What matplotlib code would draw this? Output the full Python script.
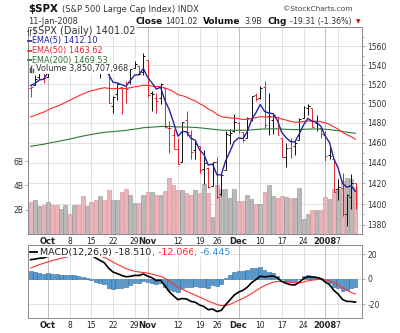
import numpy as np
import matplotlib
matplotlib.use("Agg")
import matplotlib.pyplot as plt
from matplotlib.ticker import FixedLocator, NullFormatter, FuncFormatter
from matplotlib.transforms import blended_transform_factory
from matplotlib.lines import Line2D

plt.rcParams['font.family'] = ['DejaVu Sans']

dates = ['2007-09-25', '2007-09-26', '2007-09-27', '2007-09-28',
         '2007-10-01', '2007-10-02', '2007-10-03', '2007-10-04', '2007-10-05',
         '2007-10-08', '2007-10-09', '2007-10-10', '2007-10-11', '2007-10-12',
         '2007-10-15', '2007-10-16', '2007-10-17', '2007-10-18', '2007-10-19',
         '2007-10-22', '2007-10-23', '2007-10-24', '2007-10-25', '2007-10-26',
         '2007-10-29', '2007-10-30', '2007-10-31',
         '2007-11-01', '2007-11-02', '2007-11-05', '2007-11-06', '2007-11-07',
         '2007-11-08', '2007-11-09', '2007-11-12', '2007-11-13', '2007-11-14',
         '2007-11-15', '2007-11-16', '2007-11-19', '2007-11-20', '2007-11-21',
         '2007-11-23', '2007-11-26', '2007-11-27', '2007-11-28', '2007-11-29',
         '2007-11-30',
         '2007-12-03', '2007-12-04', '2007-12-05', '2007-12-06', '2007-12-07',
         '2007-12-10', '2007-12-11', '2007-12-12', '2007-12-13', '2007-12-14',
         '2007-12-17', '2007-12-18', '2007-12-19', '2007-12-20', '2007-12-21',
         '2007-12-24', '2007-12-26', '2007-12-27', '2007-12-28', '2007-12-31',
         '2008-01-02', '2008-01-03', '2008-01-04', '2008-01-07', '2008-01-08',
         '2008-01-09', '2008-01-10', '2008-01-11']

opens = [1516.3, 1518.6, 1527.3, 1531.2,
         1527.3, 1547.0, 1545.8, 1539.9, 1543.0, 1556.5, 1553.2, 1564.9, 1564.7, 1555.4,
         1562.3, 1547.8, 1544.4, 1539.3, 1540.0, 1497.8, 1509.3, 1516.6, 1516.2, 1522.2,
         1536.9, 1539.4, 1532.2,
         1545.8, 1511.0, 1505.6, 1505.3, 1515.5, 1475.3, 1467.6, 1453.7, 1441.4, 1483.4,
         1468.0, 1453.1, 1456.7, 1434.5, 1434.7, 1417.6, 1440.7, 1409.6, 1432.9, 1467.4,
         1471.8,
         1479.6, 1471.3, 1465.2, 1484.6, 1508.6, 1505.1, 1516.7, 1487.6, 1483.3, 1486.2,
         1465.1, 1445.9, 1454.7, 1456.4, 1463.2, 1484.6, 1495.1, 1495.1, 1479.8, 1475.3,
         1468.0, 1447.6, 1444.0, 1414.1, 1415.7, 1390.3, 1406.8, 1419.9]
highs = [1518.3, 1529.0, 1532.5, 1533.7,
         1549.0, 1548.0, 1546.0, 1544.0, 1561.9, 1556.5, 1565.3, 1565.4, 1576.1, 1563.0,
         1564.7, 1547.8, 1550.7, 1542.8, 1540.0, 1508.1, 1520.0, 1517.2, 1523.2, 1535.5,
         1544.7, 1539.4, 1552.8,
         1545.8, 1513.2, 1510.8, 1520.8, 1515.5, 1482.5, 1474.1, 1464.9, 1481.4, 1492.1,
         1472.7, 1462.2, 1456.7, 1452.6, 1436.4, 1440.9, 1446.1, 1429.5, 1471.6, 1473.8,
         1488.9,
         1481.2, 1471.3, 1486.1, 1508.0, 1510.6, 1518.3, 1523.6, 1511.0, 1489.4, 1486.7,
         1465.1, 1460.2, 1464.4, 1461.5, 1485.4, 1497.6, 1498.9, 1495.1, 1488.0, 1475.8,
         1471.8, 1456.8, 1444.0, 1423.9, 1430.3, 1409.2, 1429.1, 1419.9]
lows = [1507.1, 1518.6, 1525.8, 1521.0,
        1527.3, 1540.4, 1536.3, 1537.6, 1543.0, 1549.0, 1551.8, 1555.5, 1546.7, 1554.2,
        1540.8, 1536.3, 1526.0, 1531.8, 1500.3, 1490.4, 1503.6, 1489.6, 1500.5, 1520.2,
        1536.9, 1529.6, 1529.4,
        1506.7, 1492.5, 1489.9, 1499.1, 1475.0, 1450.3, 1453.6, 1438.5, 1441.4, 1466.5,
        1443.5, 1443.9, 1430.4, 1419.3, 1415.6, 1417.6, 1406.1, 1407.4, 1432.9, 1458.4,
        1470.9,
        1470.1, 1460.7, 1465.2, 1482.2, 1502.7, 1504.7, 1475.0, 1468.2, 1469.2, 1467.8,
        1445.4, 1435.7, 1445.3, 1447.5, 1463.2, 1484.6, 1488.2, 1475.9, 1471.7, 1465.1,
        1442.1, 1443.7, 1411.2, 1403.5, 1388.3, 1378.7, 1395.3, 1394.8]
closes = [1517.2, 1525.4, 1531.4, 1526.8,
          1547.0, 1546.6, 1539.6, 1542.8, 1557.6, 1552.6, 1565.2, 1562.5, 1554.4, 1561.8,
          1548.7, 1538.5, 1541.2, 1540.1, 1500.6, 1506.3, 1519.6, 1515.9, 1514.4, 1535.3,
          1541.0, 1531.0, 1549.4,
          1508.4, 1509.7, 1502.2, 1520.3, 1475.6, 1474.8, 1453.7, 1439.2, 1481.1, 1470.6,
          1451.2, 1458.7, 1433.3, 1439.7, 1416.8, 1440.7, 1407.2, 1428.2, 1469.0, 1469.7,
          1481.1,
          1472.4, 1462.8, 1485.0, 1507.3, 1504.7, 1516.0, 1477.7, 1486.6, 1488.4, 1468.0,
          1445.9, 1455.0, 1453.0, 1460.1, 1484.5, 1496.5, 1497.7, 1476.3, 1478.5, 1468.4,
          1447.16, 1447.16, 1411.6, 1416.2, 1390.2, 1409.1, 1420.3, 1401.02]
prev_close = 1517.73

volume_b = [2.68, 2.82, 2.33, 2.36,
            2.60, 2.40, 2.40, 2.08, 2.40, 1.67, 2.40, 2.40, 3.10, 2.27,
            2.60, 2.77, 3.15, 2.77, 3.64, 2.82, 2.82, 3.45, 3.73, 3.23,
            2.55, 2.55, 3.23,
            3.45, 3.45, 3.18, 3.23, 3.56, 4.60, 4.00, 3.64, 3.64, 3.37,
            3.23, 3.60, 3.37, 4.10, 3.37, 1.37, 4.00, 3.73, 3.73, 3.00,
            3.73,
            2.74, 2.74, 3.18, 2.90, 2.50, 2.50, 3.50, 4.00, 3.12, 2.96,
            3.10, 3.04, 2.96, 3.00, 3.80, 1.25, 1.67, 2.00, 2.00, 2.00,
            3.04, 2.90, 3.70, 3.70, 4.40, 4.60, 4.50, 3.85]

ema5 = [1518.5, 1520.8, 1524.3, 1525.1,
        1532.4, 1537.1, 1537.9, 1539.5, 1545.5, 1547.9, 1553.7, 1556.6, 1555.9, 1557.9,
        1554.8, 1549.4, 1546.7, 1544.5, 1529.9, 1522.0, 1521.2, 1519.4, 1517.7, 1523.6,
        1529.4, 1529.9, 1536.4,
        1527.1, 1521.3, 1514.9, 1516.7, 1503.0, 1493.6, 1480.3, 1466.6, 1471.4, 1471.1,
        1464.5, 1462.6, 1452.8, 1448.4, 1437.9, 1438.8, 1428.3, 1428.3, 1441.9, 1451.2,
        1461.2,
        1464.9, 1464.2, 1471.1, 1483.2, 1490.4, 1498.9, 1491.8, 1490.1, 1489.5, 1482.3,
        1470.2, 1465.1, 1461.1, 1460.8, 1468.7, 1478.0, 1484.6, 1481.8, 1480.7, 1476.6,
        1466.8, 1460.3, 1444.1, 1434.8, 1419.9, 1416.3, 1417.6, 1412.1]
ema50 = [1486.3, 1487.8, 1489.5, 1491.0,
         1493.2, 1495.3, 1497.0, 1498.8, 1501.1, 1503.1, 1505.5, 1507.7, 1509.5, 1511.6,
         1513.1, 1514.1, 1515.2, 1516.2, 1515.6, 1515.2, 1515.4, 1515.4, 1515.4, 1516.2,
         1517.2, 1517.7, 1518.9,
         1518.5, 1518.1, 1517.5, 1517.6, 1516.0, 1514.4, 1512.0, 1509.1, 1508.0, 1506.5,
         1504.3, 1502.5, 1499.8, 1497.4, 1494.2, 1492.1, 1488.8, 1486.4, 1485.7, 1485.1,
         1484.9,
         1484.4, 1483.5, 1483.6, 1484.5, 1485.3, 1486.5, 1486.1, 1486.1, 1486.2, 1485.5,
         1484.0, 1482.9, 1481.7, 1480.8, 1480.9, 1481.5, 1482.1, 1481.9, 1481.8, 1481.3,
         1480.0, 1478.7, 1476.1, 1473.8, 1470.5, 1468.1, 1466.2, 1463.6]
ema200 = [1456.5, 1457.2, 1457.9, 1458.6,
          1459.5, 1460.4, 1461.2, 1462.0, 1462.9, 1463.8, 1464.8, 1465.8, 1466.7, 1467.6,
          1468.4, 1469.1, 1469.9, 1470.6, 1470.9, 1471.2, 1471.7, 1472.1, 1472.5, 1473.2,
          1473.8, 1474.4, 1475.2,
          1475.5, 1475.8, 1476.1, 1476.5, 1476.5, 1476.5, 1476.3, 1475.9, 1476.0, 1475.9,
          1475.7, 1475.5, 1475.1, 1474.7, 1474.1, 1473.8, 1473.2, 1472.7, 1472.7, 1472.6,
          1472.7,
          1472.7, 1472.6, 1472.7, 1473.1, 1473.4, 1473.8, 1473.9, 1474.0, 1474.1, 1474.1,
          1473.8, 1473.6, 1473.4, 1473.3, 1473.4, 1473.6, 1473.8, 1473.9, 1473.9, 1473.9,
          1473.6, 1473.3, 1472.7, 1472.2, 1471.3, 1470.7, 1470.2, 1469.5]

macd = [15.5, 15.9, 16.6, 16.8,
        18.2, 19.2, 19.4, 19.8, 20.9, 21.1, 21.9, 22.0, 21.3, 20.8,
        19.1, 16.8, 14.9, 13.0, 8.6, 5.6, 4.3, 2.9, 1.8, 2.1,
        2.9, 2.8, 4.0,
        2.3, 1.0, -1.2, -1.0, -5.5, -10.2, -13.5, -16.5, -15.6, -16.0,
        -17.9, -18.6, -20.8, -22.0, -24.6, -24.0, -26.0, -25.1, -20.6, -16.8,
        -12.8,
        -10.5, -9.1, -6.6, -2.9, -0.5, 2.2, 1.7, 2.1, 2.4, 0.8,
        -2.0, -3.4, -4.6, -4.8, -2.6, 0.3, 1.8, 1.5, 1.3, 0.3,
        -2.4, -4.5, -9.1, -12.1, -16.4, -17.9, -18.0, -18.5]
signal = [8.8, 10.2, 11.5, 12.6,
          13.7, 14.8, 15.7, 16.5, 17.4, 18.1, 18.9, 19.5, 19.9, 20.1,
          19.9, 19.3, 18.4, 17.3, 15.6, 13.6, 11.7, 10.0, 8.3, 7.1,
          6.2, 5.6, 5.2,
          4.7, 3.9, 2.9, 2.1, 0.6, -1.6, -4.0, -6.5, -8.3, -9.8,
          -11.4, -12.9, -14.5, -16.0, -17.7, -19.0, -20.4, -21.3, -21.2, -20.3,
          -18.8,
          -17.1, -15.5, -13.7, -11.6, -9.4, -7.1, -5.3, -3.8, -2.6, -1.9,
          -1.9, -2.2, -2.7, -3.1, -3.0, -2.4, -1.5, -0.9, -0.5, -0.3,
          -0.7, -1.5, -3.0, -4.8, -7.0, -9.1, -10.7, -12.1]

tick_dates = ['2007-10-01', '2007-10-08', '2007-10-15', '2007-10-22', '2007-10-29',
              '2007-11-01', '2007-11-12', '2007-11-19', '2007-11-26', '2007-12-03',
              '2007-12-10', '2007-12-17', '2007-12-24', '2008-01-02', '2008-01-07']
tick_labels = ['Oct', '8', '15', '22', '29', 'Nov', '12', '19', '26', 'Dec',
               '10', '17', '24', '2008', '7']
month_labels = ['Oct', 'Nov', 'Dec', '2008']
price_ticks = list(range(1380, 1561, 20))

# ---------------------------------------------------------------
W, H = 400, 333
fig = plt.figure(figsize=(W / 100, H / 100), dpi=100)
fig.patch.set_facecolor('white')


def fx(px):
    return px / W


def fy(py):
    return 1 - py / H


n = len(dates)
x = np.arange(n)
c = np.array(closes)
prev = np.concatenate([[prev_close], c[:-1]])
down = c < prev
bar_col = np.where(down, '#e0161e', '#000000')
vol_face = np.where(down, '#ebb4ba', '#b9b9b9')
vol_edge = np.where(down, '#d98890', '#8f8f8f')
xlim = (-0.62, n + 0.5)
tick_pos = [dates.index(d) for d in tick_dates]

SPINE = '#8a8a8a'
GRID = '#dddddd'
MGRID = '#b4b4b4'

# ---------------- main panel ----------------
ax_v = fig.add_axes([fx(28), fy(234), fx(362) - fx(28), fy(27) - fy(234)])
ax_p = ax_v.twinx()
ax_p.set_yscale('log')
ax_p.set_ylim(1371.5, 1580.7)
ax_v.set_ylim(0, 17.07e9)
ax_v.set_xlim(*xlim)

trans = blended_transform_factory(ax_v.transAxes, ax_p.transData)
for p in price_ticks:
    ax_v.plot([0, 1], [p, p], transform=trans, color=GRID, lw=0.6, zorder=1)
for t, lab in zip(tick_pos, tick_labels):
    ax_v.axvline(t, color=MGRID if lab in month_labels else GRID, lw=0.6, zorder=1)

ax_v.bar(x, np.array(volume_b) * 1e9, width=0.86, color=vol_face,
         edgecolor=vol_edge, linewidth=0.4, zorder=2)

ax_p.vlines(x, lows, highs, colors=bar_col, lw=0.65, zorder=3)
ax_p.hlines(opens, x - 0.45, x, colors=bar_col, lw=0.65, zorder=3)
ax_p.hlines(closes, x, x + 0.45, colors=bar_col, lw=0.65, zorder=3)
ax_p.plot(x, ema200, color='#2e7a30', lw=0.8, zorder=4)
ax_p.plot(x, ema50, color='#ff2b2b', lw=0.8, zorder=4)
ax_p.plot(x, ema5, color='#2323a3', lw=1.0, zorder=5)
ax_p.set_xlim(*xlim)

ax_p.yaxis.set_major_locator(FixedLocator(price_ticks))
ax_p.yaxis.set_major_formatter(FuncFormatter(lambda v, pos: f'{v:.0f}'))
ax_p.yaxis.set_minor_locator(FixedLocator(list(range(1380, 1580, 10))))
ax_p.yaxis.set_minor_formatter(NullFormatter())
ax_p.tick_params(axis='y', which='major', labelsize=5.5, length=2.5, width=0.5,
                 color=SPINE, pad=1.5, labelcolor='#333333')
ax_p.tick_params(axis='y', which='minor', length=1.5, width=0.5, color=SPINE)

ax_v.yaxis.set_major_locator(FixedLocator([2e9, 4e9, 6e9]))
ax_v.set_yticklabels(['2B', '4B', '6B'])
ax_v.tick_params(axis='y', labelsize=5.5, length=2.5, width=0.5, color=SPINE,
                 pad=1, labelcolor='#333333')

for a in (ax_v, ax_p):
    for s in a.spines.values():
        s.set_color(SPINE)
        s.set_linewidth(0.7)


def set_xticks(a):
    a.set_xticks(tick_pos)
    a.set_xticklabels(tick_labels)
    a.tick_params(axis='x', length=0, labelsize=5.5, pad=2.2, labelcolor='#222222')
    for lbl in a.get_xticklabels():
        if lbl.get_text() in month_labels:
            lbl.set_fontweight('bold')
            lbl.set_fontsize(6)


set_xticks(ax_v)

# ---------------- MACD panel ----------------
ax_m = fig.add_axes([fx(28), fy(318), fx(362) - fx(28), fy(245) - fy(318)])
ax_m.set_xlim(*xlim)
ax_m.set_ylim(-31.2, 27.2)
for v in (-20, 0, 20):
    ax_m.axhline(v, color=GRID, lw=0.6, zorder=1)
for t, lab in zip(tick_pos, tick_labels):
    ax_m.axvline(t, color=MGRID if lab in month_labels else GRID, lw=0.6, zorder=1)
hist = np.array(macd) - np.array(signal)
ax_m.bar(x, hist, width=0.86, color='#5798cf', edgecolor='#2c6d9c',
         linewidth=0.4, zorder=2)
ax_m.plot(x, signal, color='#ff3030', lw=0.8, zorder=3)
ax_m.plot(x, macd, color='#000000', lw=1.2, zorder=4)
ax_m.yaxis.tick_right()
ax_m.set_yticks([-20, 0, 20])
ax_m.set_yticklabels(['-20', '0', '20'])
ax_m.tick_params(axis='y', labelsize=5.5, length=2.5, width=0.5, color=SPINE,
                 pad=1.5, labelcolor='#333333')
for s in ax_m.spines.values():
    s.set_color(SPINE)
    s.set_linewidth(0.7)
set_xticks(ax_m)

# ---------------- texts ----------------
renderer = fig.canvas.get_renderer()
WHITE = dict(boxstyle='square,pad=0.08', fc='white', ec='none')


def put(px, py, s, **kw):
    kw.setdefault('va', 'center')
    kw.setdefault('ha', 'left')
    return fig.text(fx(px), fy(py), s, **kw)


def seq(px, py, parts):
    cur = px
    for s, kw in parts:
        t = put(cur, py, s, **kw)
        cur = t.get_window_extent(renderer=renderer).x1
    return cur


def seg(x0, x1, y, color, lw=1.2):
    fig.add_artist(Line2D([fx(x0), fx(x1)], [fy(y), fy(y)], color=color, lw=lw,
                          transform=fig.transFigure))


# header
put(28, 12, r'\$SPX', fontsize=7.4, fontweight='bold', va='baseline', color='#111111')
put(62, 12, '(S&P 500 Large Cap Index) INDX', fontsize=6.0, va='baseline', color='#333333')
put(283, 11, '\u00a9StockCharts.com', fontsize=5.3, va='baseline', color='#444444')
put(28, 24, '11-Jan-2008', fontsize=5.9, va='baseline', color='#333333')
put(135, 24, 'Close', fontsize=6.4, fontweight='bold', va='baseline', color='#111111')
put(165.5, 24, '1401.02', fontsize=5.7, va='baseline', color='#333333')
put(203, 24, 'Volume', fontsize=6.4, fontweight='bold', va='baseline', color='#111111')
put(244.5, 24, '3.9B', fontsize=5.7, va='baseline', color='#333333')
put(268, 24, 'Chg', fontsize=6.4, fontweight='bold', va='baseline', color='#111111')
put(290, 24, '-19.31 (-1.36%)', fontsize=5.7, va='baseline', color='#333333')
put(355.5, 23.5, '\u25bc', fontsize=4.2, va='baseline', color='#d01010')

# main panel legend
put(32.5, 31.5, r'\$SPX (Daily) 1401.02', fontsize=7.0, color='#333333', bbox=WHITE)
for xx in (27.6, 30.2):
    fig.add_artist(Line2D([fx(xx), fx(xx)], [fy(35), fy(28.5)], color='#444444', lw=0.6,
                          transform=fig.transFigure))
seg(26.8, 27.6, 31, '#444444', 0.6)
seg(30.2, 31.0, 30, '#444444', 0.6)
leg_rows = [('EMA(5) 1412.10', '#1f1f9e', 41),
            ('EMA(50) 1463.62', '#e8262b', 50.5),
            ('EMA(200) 1469.53', '#2e6e2e', 60)]
for s, col, yy in leg_rows:
    put(32.5, yy, s, fontsize=5.9, color=col, bbox=WHITE)
    seg(28.3, 32.3, yy, col, 1.2)
put(36.5, 69, 'Volume 3,850,707,968', fontsize=5.9, color='#333333', bbox=WHITE)
for xx, hh in ((29.5, 4), (31.2, 6), (32.9, 3)):
    fig.add_artist(Line2D([fx(xx), fx(xx)], [fy(72), fy(72 - hh)], color='#555555', lw=1.0,
                          transform=fig.transFigure))

# MACD legend
seg(30, 36.5, 252, '#000000', 1.3)
seq(40.5, 252, [('MACD(12,26,9) -18.510', dict(fontsize=6.8, color='#222222', bbox=WHITE)),
                (', -12.066', dict(fontsize=6.8, color='#ff2020', bbox=WHITE)),
                (', -6.445', dict(fontsize=6.8, color='#3b8fd0', bbox=WHITE))])

fig.savefig('out.png', dpi=100, facecolor='white')
